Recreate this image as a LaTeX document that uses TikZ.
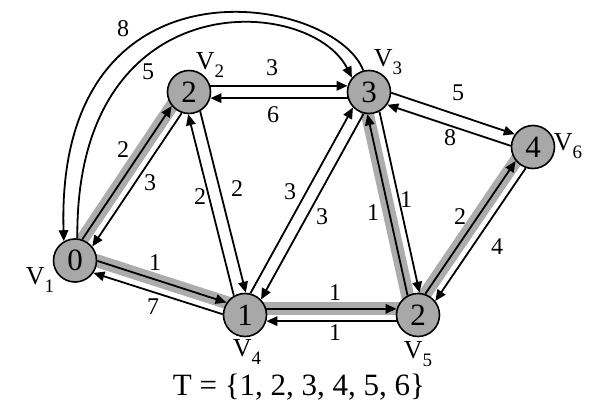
\documentclass[tikz,border=0pt]{standalone}
\usepackage{fontspec}
\setmainfont{Liberation Serif}
\usetikzlibrary{arrows.meta,backgrounds}
\definecolor{nodegray}{RGB}{168,168,168}
\definecolor{bandgray}{RGB}{172,172,172}
\newcommand\vlab[1]{{\fontsize{26}{26}\selectfont V\raisebox{-0.28em}{\fontsize{19}{19}\selectfont #1}}}
\newcommand\dedge[4][]{\pgfmathsetmacro\angA{#4+16}\pgfmathsetmacro\angB{#4+164}\draw[arr,#1] (#2.\angA) -- (#3.\angB);}
\newcommand\tband[3]{\pgfmathsetmacro\angA{#3+16}\pgfmathsetmacro\angB{#3+164}\draw[band] (#1.\angA) -- (#2.\angB);}
\begin{document}
\begin{tikzpicture}[x=1pt,y=-1pt,
  vert/.style={circle,draw,line width=1.6pt,fill=nodegray,minimum size=43pt,inner sep=0pt,font=\fontsize{31}{31}\selectfont},
  arr/.style={line width=1.8pt,-{Triangle[length=11pt,width=9.5pt]}},
  band/.style={line width=13pt,bandgray,shorten <=-4pt,shorten >=-4pt},
  wt/.style={font=\fontsize{24}{24}\selectfont,inner sep=0pt},
  vl/.style={inner sep=0pt}]
\useasboundingbox (0,0) rectangle (595,406);
% vertices
\node[vert] (v1) at (75,260.5) {0};
\node[vert] (v2) at (189,92) {2};
\node[vert] (v3) at (369,92) {3};
\node[vert] (v6) at (533,147) {4};
\node[vert] (v4) at (245,315) {1};
\node[vert] (v5) at (418,315) {2};
% vertex names
\node[vl] (n1) at (40,280) {\vlab{1}};
\node[vl] (n2) at (210,65) {\vlab{2}};
\node[vl] (n3) at (388,62) {\vlab{3}};
\node[vl] (n6) at (568,146) {\vlab{6}};
\node[vl] (n4) at (247,352) {\vlab{4}};
\node[vl] (n5) at (418,354) {\vlab{5}};
% shortest-path tree bands
\begin{scope}[on background layer]
\tband{v1}{v2}{55.9}
\tband{v1}{v4}{-17.8}
\tband{v4}{v5}{0}
\tband{v5}{v3}{102.4}
\tband{v5}{v6}{55.6}
\end{scope}
% directed edges (each on its left side)
\dedge{v1}{v2}{55.9}
\dedge{v2}{v1}{235.9}
\dedge{v2}{v3}{0}
\dedge{v3}{v2}{180}
\dedge{v4}{v2}{104.1}
\dedge{v2}{v4}{284.1}
\dedge{v4}{v3}{60.9}
\dedge{v3}{v4}{240.9}
\dedge{v1}{v4}{-17.8}
\dedge{v4}{v1}{162.2}
\dedge{v4}{v5}{0}
\dedge{v5}{v4}{180}
\dedge{v5}{v3}{102.4}
\dedge{v3}{v5}{282.4}
\dedge{v3}{v6}{-18.5}
\dedge{v6}{v3}{161.5}
\dedge{v5}{v6}{55.6}
\dedge{v6}{v5}{235.6}
% long arcs between v3 and v1
\draw[arr] (v3.105) .. controls (335,-5) and (55,-55) .. (v1.120);
\draw[arr] (v1.84) .. controls (75,-20) and (310,-5) .. (v3.140);
% weights
\node[wt] (w31) at (123,29) {8};
\node[wt] (w13) at (148,72) {5};
\node[wt] (w23) at (272,68) {3};
\node[wt] (w32) at (273,115) {6};
\node[wt] (w12) at (123,150) {2};
\node[wt] (w21) at (150,183) {3};
\node[wt] (w42) at (200,197) {2};
\node[wt] (w24) at (237,189) {2};
\node[wt] (w43) at (290,192) {3};
\node[wt] (w34) at (322,217) {3};
\node[wt] (w36) at (458,93) {5};
\node[wt] (w63) at (450,138) {8};
\node[wt] (w53) at (373,213) {1};
\node[wt] (w35) at (406,200) {1};
\node[wt] (w56) at (460,217) {2};
\node[wt] (w65) at (497,247) {4};
\node[wt] (w45) at (335,293) {1};
\node[wt] (w54) at (335,333) {1};
\node[wt] (w14) at (155,263) {1};
\node[wt] (w41) at (153,307) {7};
% caption
\node[font=\fontsize{31}{31}\selectfont,inner sep=0pt] (tset) at (299,387) {T = \{1, 2, 3, 4, 5, 6\}};
\end{tikzpicture}
\end{document}
